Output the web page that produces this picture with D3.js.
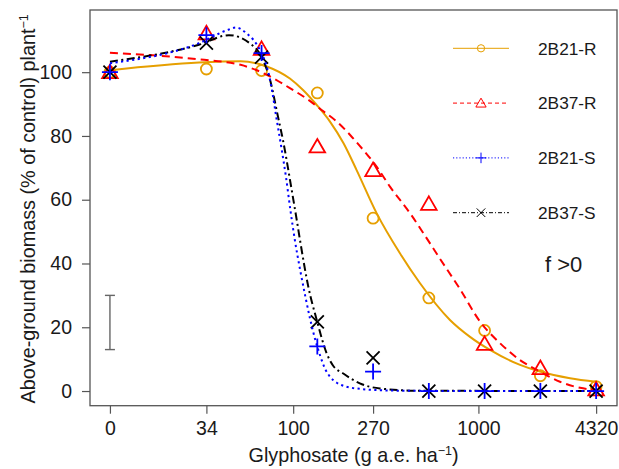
<!DOCTYPE html>
<html>
<head>
<meta charset="utf-8">
<script src="https://cdn.jsdelivr.net/npm/d3@7"></script>
<style>
  body { margin: 0; background: #fff; }
  svg { display: block; }
  text { font-family: "Liberation Sans", Arial, Helvetica, sans-serif; }
</style>
</head>
<body>
<svg id="chart" width="619" height="469"></svg>
<script>
// Glyphosate dose (g a.e. ha^-1); the untreated control (0) sits left of 34 on the log axis
const doses = [0, 34, 67.5, 135, 270, 540, 1080, 2160, 4320];

// Observed biomass, % of untreated control
const obs2B21R = [100, 101, 100.5, 93.5, 54.2, 29.2, 19, 4.8, 1.4];
const obs2B37R = [100, 112.2, 107.3, 76.7, 69.3, 58.7, 14.8, 7.2, 0.5];
const obs2B21S = [100, 111.6, 106, 14, 6.1, 0, 0, 0, 0];
const obs2B37S = [100, 109.1, 104.7, 21.7, 10.4, 0, 0, 0, 0];

// Fitted dose-response (hormesis) curves, [dose, % of control]
const fit2B21R = [[0, 100.6], [31, 103.0], [52, 103.4], [72, 101.8], [96, 98.0], [113, 94.4],
  [134, 89.7], [158, 84.5], [187, 77.7], [220, 69.3], [282, 55.8], [377, 43.2], [484, 33.8],
  [702, 22.3], [901, 17], [1155, 12.9], [1678, 8.2], [2150, 6.1], [3123, 4.0], [4320, 2.9]];
const fit2B37R = [[0, 106.1], [31, 104.0], [52, 102.3], [72, 99.2], [96, 95.0], [123, 91.0],
  [145, 87.8], [172, 84.5], [203, 80.3], [239, 75.6], [282, 70.4], [333, 64.1], [427, 55.8],
  [548, 46.3], [620, 41.5], [795, 32.0], [1020, 21.8], [1308, 15.0], [1678, 9.7], [2150, 6.1],
  [2757, 2.9], [3536, 1.0], [4320, 0.3]];
const fit2B21S = [[0, 102.8], [31, 109.1], [45, 113.4], [49, 114.0], [56, 112.2], [66, 107.0],
  [73, 100.5], [77, 94], [81, 86], [86, 77], [91.5, 67], [97, 56], [102, 47.5], [109, 38],
  [116, 30], [123, 23], [131, 16.5], [140, 11], [148.5, 7], [158, 4.5], [172, 2.6], [190, 1.5],
  [229, 0.7], [294, 0.25], [484, 0.05], [4320, 0]];
const fit2B37S = [[0, 103.3], [31, 108.6], [45, 111.6], [58.5, 109], [68.7, 103.9], [75, 97.6],
  [82.8, 86], [88, 78.8], [98.2, 63], [104.5, 53.7], [108.8, 47.4], [120.7, 32.7], [134, 22.3],
  [151.7, 11.8], [164, 8], [186.5, 5.5], [229, 2.4], [294, 0.8], [484, 0.1], [4320, 0]];

const seriesNames = ["2B21-R", "2B37-R", "2B21-S", "2B37-S"];
const xTicks = [0, 34, 100, 270, 1000, 4320];
const yTicks = [0, 20, 40, 60, 80, 100];
const lsdBar = [13, 30];           // error bar drawn at the control position
const noteText = "f >0";

const series = [
  { name: seriesNames[0], obs: obs2B21R, fit: fit2B21R, color: "#E69F00", shape: "circle",
    dash: null, legendDash: null },
  { name: seriesNames[1], obs: obs2B37R, fit: fit2B37R, color: "#FF0000", shape: "triangle",
    dash: "8,5", legendDash: "4,3" },
  { name: seriesNames[3], obs: obs2B37S, fit: fit2B37S, color: "#000000", shape: "times",
    dash: "8,3.5,2,3.5", legendDash: "4,2,1,2" },
  { name: seriesNames[2], obs: obs2B21S, fit: fit2B21S, color: "#0000FF", shape: "plus",
    dash: "2.2,3.4", legendDash: "1.2,2" }
];
const legendOrder = [0, 1, 3, 2];

const svg = d3.select("#chart");
const L = 90, R = 617, T = 10, B = 405.7;
const zeroAt = 10.25;  // log-axis position used for the control dose

const x = d3.scaleLog().domain([8, 5600]).range([L, R]);
const xp = d => x(d === 0 ? zeroAt : d);
const y = d3.scaleLinear().domain([-4.6, 119.5]).range([B, T]);

// Axes
const xAxis = svg.append("g")
  .attr("transform", `translate(0,${B})`)
  .call(d3.axisBottom(x)
    .tickValues(xTicks.map(v => v === 0 ? zeroAt : v))
    .tickFormat((v, i) => String(xTicks[i]))
    .tickSize(8).tickPadding(7));
const yAxis = svg.append("g")
  .attr("transform", `translate(${L},0)`)
  .call(d3.axisLeft(y).tickValues(yTicks).tickSize(8).tickPadding(10));
[xAxis, yAxis].forEach(a => {
  a.select(".domain").remove();
  a.selectAll(".tick line").attr("stroke", "#555").attr("stroke-width", 1.2);
  a.selectAll(".tick text").attr("fill", "#1a1a1a").style("font-size", "19.5px")
    .style("font-family", "'Liberation Sans', Arial, sans-serif");
});

// Plot frame
svg.append("rect")
  .attr("x", L).attr("y", T).attr("width", R - L).attr("height", B - T)
  .attr("fill", "none").attr("stroke", "#555").attr("stroke-width", 1.3);

// Axis titles
const yt = svg.append("text")
  .attr("transform", `translate(35,${(T + B) / 2 + 1}) rotate(-90)`)
  .attr("text-anchor", "middle").attr("fill", "#1a1a1a").style("font-size", "19.8px");
yt.append("tspan").text("Above-ground biomass (% of control) plant");
yt.append("tspan").attr("dy", "-0.55em").style("font-size", "12.5px").text("\u22121");

const xt = svg.append("text")
  .attr("x", (L + R) / 2).attr("y", 461.5)
  .attr("text-anchor", "middle").attr("fill", "#1a1a1a").style("font-size", "19.8px");
xt.append("tspan").text("Glyphosate (g a.e. ha");
xt.append("tspan").attr("dy", "-0.55em").style("font-size", "12.5px").text("\u22121");
xt.append("tspan").attr("dy", "0.35em").text(")");

// Error bar at the control position
const ebx = xp(0);
const eb = svg.append("g").attr("stroke", "#666").attr("stroke-width", 1.4);
eb.append("line").attr("x1", ebx).attr("x2", ebx).attr("y1", y(lsdBar[0])).attr("y2", y(lsdBar[1]));
lsdBar.forEach(v => eb.append("line").attr("x1", ebx - 5).attr("x2", ebx + 5)
  .attr("y1", y(v)).attr("y2", y(v)));

// Marker drawing
function drawMarker(g, shape, cx, cy, s, color, sw) {
  if (shape === "circle") {
    g.append("circle").attr("cx", cx).attr("cy", cy).attr("r", 5.5 * s)
      .attr("fill", "none").attr("stroke", color).attr("stroke-width", sw);
    return;
  }
  let d;
  if (shape === "triangle") {
    d = `M${cx},${cy - 7.5 * s}L${cx + 7.8 * s},${cy + 6 * s}L${cx - 7.8 * s},${cy + 6 * s}Z`;
  } else if (shape === "plus") {
    d = `M${cx - 8 * s},${cy}H${cx + 8 * s}M${cx},${cy - 8 * s}V${cy + 8 * s}`;
  } else {
    const k = 6.5 * s;
    d = `M${cx - k},${cy - k}L${cx + k},${cy + k}M${cx - k},${cy + k}L${cx + k},${cy - k}`;
  }
  g.append("path").attr("d", d).attr("fill", "none").attr("stroke", color)
    .attr("stroke-width", sw).attr("stroke-linejoin", "miter");
}

// Curves and observations
const line = d3.line().x(d => xp(d[0])).y(d => y(d[1])).curve(d3.curveMonotoneX);
series.forEach(s => {
  const g = svg.append("g");
  g.append("path").datum(s.fit).attr("d", line)
    .attr("fill", "none").attr("stroke", s.color).attr("stroke-width", 2)
    .attr("stroke-dasharray", s.dash);
  s.obs.forEach((v, i) => drawMarker(g, s.shape, xp(doses[i]), y(v), 1, s.color, 1.8));
});

// Legend
const legY0 = 48.3, legStep = 54.8;
legendOrder.forEach((si, row) => {
  const s = series[si];
  const ly = legY0 + row * legStep;
  const g = svg.append("g");
  g.append("line").attr("x1", 453).attr("x2", 509).attr("y1", ly).attr("y2", ly)
    .attr("stroke", s.color).attr("stroke-width", 1).attr("stroke-dasharray", s.legendDash);
  drawMarker(g, s.shape, 481, ly, 0.66, s.color, 1);
  g.append("text").attr("x", 538).attr("y", ly).attr("dy", "0.36em")
    .attr("fill", "#1a1a1a").style("font-size", "17.3px").text(s.name);
});

svg.append("text").attr("x", 545).attr("y", 272).attr("fill", "#1a1a1a")
  .style("font-size", "22px").text(noteText);
</script>
</body>
</html>
